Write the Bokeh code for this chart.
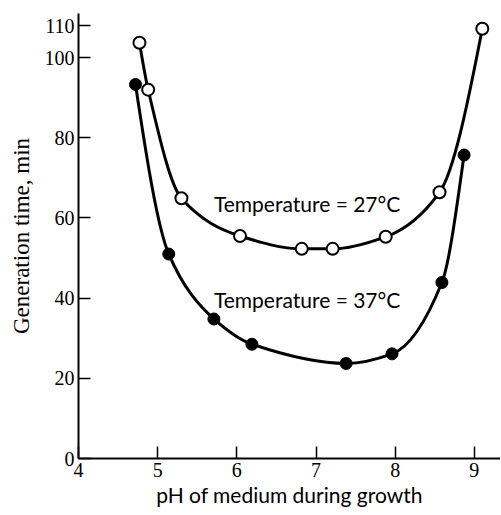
from bokeh.plotting import figure
from bokeh.models import Label, FixedTicker
from bokeh.embed import file_html
from bokeh.resources import INLINE

# ---- data ----
ph_27 = [4.77, 4.88, 5.30, 6.04, 6.82, 7.21, 7.88, 8.56, 9.10]
gen_27 = [103.7, 92.0, 64.9, 55.5, 52.3, 52.3, 55.3, 66.4, 107.2]

ph_37 = [4.72, 5.14, 5.71, 6.19, 7.38, 7.96, 8.59, 8.87]
gen_37 = [93.3, 51.0, 34.8, 28.5, 23.7, 26.1, 43.9, 75.7]

x_ticks = [4, 5, 6, 7, 8, 9]
y_ticks = [0, 20, 40, 60, 80, 100, 108]
y_tick_labels = ["0", "20", "40", "60", "80", "100", "110"]

label_27 = "Temperature = 27°C"
label_37 = "Temperature = 37°C"


def pchip_slopes(xs, ys):
    n = len(xs)
    h = [xs[i + 1] - xs[i] for i in range(n - 1)]
    d = [(ys[i + 1] - ys[i]) / h[i] for i in range(n - 1)]
    m = [0.0] * n
    for i in range(1, n - 1):
        if d[i - 1] * d[i] <= 0:
            m[i] = 0.0
        else:
            w1 = 2 * h[i] + h[i - 1]
            w2 = h[i] + 2 * h[i - 1]
            m[i] = (w1 + w2) / (w1 / d[i - 1] + w2 / d[i])

    def end(h0, h1, d0, d1):
        s = ((2 * h0 + h1) * d0 - h0 * d1) / (h0 + h1)
        if s * d0 <= 0:
            return 0.0
        if d0 * d1 < 0 and abs(s) > 3 * abs(d0):
            return 3 * d0
        return s

    m[0] = end(h[0], h[1], d[0], d[1])
    m[-1] = end(h[-1], h[-2], d[-1], d[-2])
    return m


def smooth_segments(xs, ys):
    """Shape-preserving cubic through the points, as Bezier segments."""
    m = pchip_slopes(xs, ys)
    seg = dict(x0=[], y0=[], x1=[], y1=[], cx0=[], cy0=[], cx1=[], cy1=[])
    for i in range(len(xs) - 1):
        h = xs[i + 1] - xs[i]
        seg["x0"].append(xs[i]); seg["y0"].append(ys[i])
        seg["x1"].append(xs[i + 1]); seg["y1"].append(ys[i + 1])
        seg["cx0"].append(xs[i] + h / 3.0)
        seg["cy0"].append(ys[i] + m[i] * h / 3.0)
        seg["cx1"].append(xs[i + 1] - h / 3.0)
        seg["cy1"].append(ys[i + 1] - m[i + 1] * h / 3.0)
    return seg


p = figure(width=500, height=513, x_range=(4, 9.33), y_range=(0, 111),
           output_backend="svg", toolbar_location=None,
           min_border_left=78, min_border_right=0, min_border_top=13, min_border_bottom=55)
p.outline_line_color = None
p.grid.visible = False
p.background_fill_color = "white"
p.border_fill_color = "white"

serif = "Liberation Serif"
sans = "Lato"

p.xaxis.ticker = FixedTicker(ticks=x_ticks)
p.yaxis.ticker = FixedTicker(ticks=y_ticks)
p.yaxis.major_label_overrides = {t: l for t, l in zip(y_ticks, y_tick_labels)}

for ax in (p.xaxis, p.yaxis):
    ax.axis_line_width = 2
    ax.axis_line_color = "black"
    ax.major_tick_line_width = 1.5
    ax.major_tick_line_color = "black"
    ax.major_tick_in = 12
    ax.major_tick_out = 0
    ax.minor_tick_line_color = None
    ax.major_label_text_font = serif
    ax.major_label_text_font_size = "20px"
    ax.major_label_text_color = "black"
    ax.major_label_standoff = 4
    ax.axis_label_text_font_style = "normal"
    ax.axis_label_text_color = "black"

p.xaxis.axis_label = "pH of medium during growth"
p.xaxis.axis_label_text_font = sans
p.xaxis.axis_label_text_font_size = "21px"
p.xaxis.axis_label_standoff = 2

p.yaxis.axis_label = "Generation time, min"
p.yaxis.axis_label_text_font = serif
p.yaxis.axis_label_text_font_size = "23px"
p.yaxis.axis_label_standoff = 8

# curves
s27 = smooth_segments(ph_27, gen_27)
s37 = smooth_segments(ph_37, gen_37)
p.bezier(x0="x0", y0="y0", x1="x1", y1="y1", cx0="cx0", cy0="cy0", cx1="cx1", cy1="cy1",
         source=s27, line_color="black", line_width=3)
p.bezier(x0="x0", y0="y0", x1="x1", y1="y1", cx0="cx0", cy0="cy0", cx1="cx1", cy1="cy1",
         source=s37, line_color="black", line_width=3)

# markers
p.scatter(ph_27, gen_27, marker="circle", size=12, fill_color="white",
          line_color="black", line_width=2)
p.scatter(ph_37, gen_37, marker="circle", size=12, fill_color="black",
          line_color="black", line_width=1)

# curve labels
for txt, yv in ((label_27, 63.5), (label_37, 39.6)):
    p.add_layout(Label(x=5.71, y=yv, text=txt, text_font=sans,
                       text_font_size="21px", text_color="black",
                       text_align="left", text_baseline="middle"))

open("out.html", "w").write(file_html(p, INLINE))
